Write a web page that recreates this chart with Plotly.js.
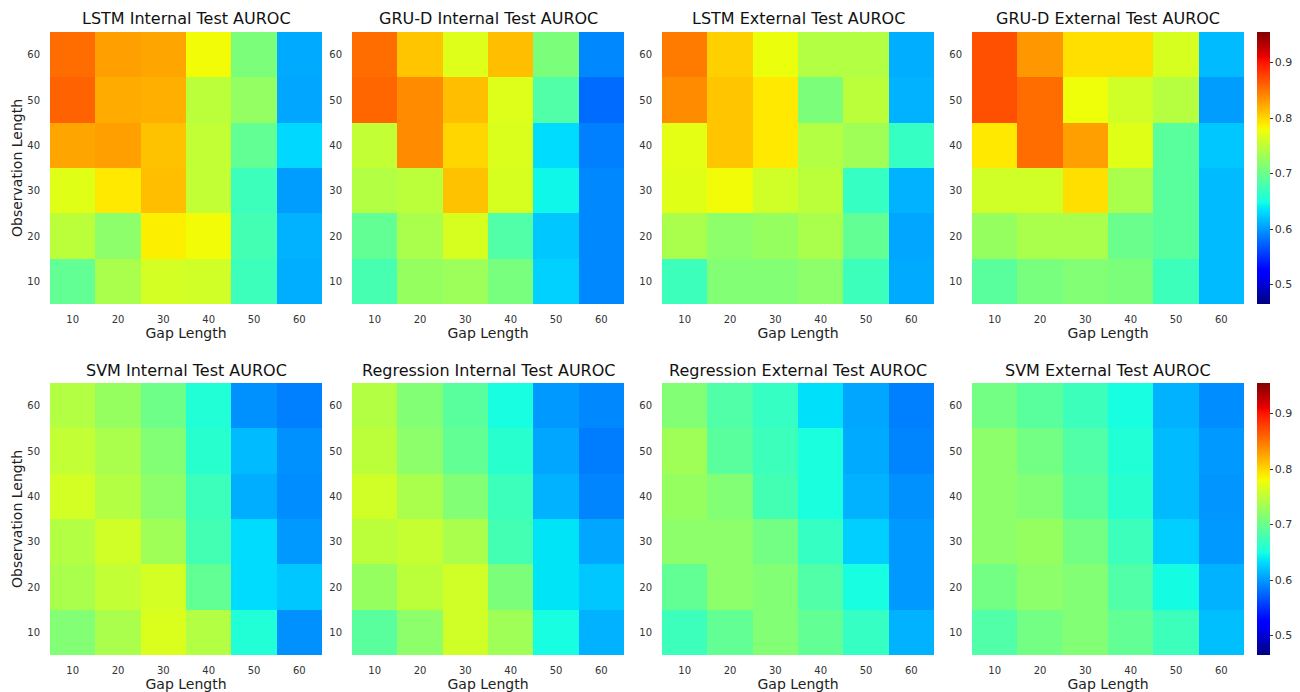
<!DOCTYPE html>
<html>
<head>
<meta charset="utf-8">
<script src="https://cdn.plot.ly/plotly-3.0.1.min.js"></script>
<style>html,body{margin:0;padding:0;background:#fff;}#chart{width:1300px;height:692px;}</style>
</head>
<body>
<div id="chart"></div>
<script>
// Axis categories
const gapLengths = [10, 20, 30, 40, 50, 60];
const obsLengths = [10, 20, 30, 40, 50, 60];
const colorbarTicks = [0.5, 0.6, 0.7, 0.8, 0.9];

// Panel titles
const titles = [
  "LSTM Internal Test AUROC", "GRU-D Internal Test AUROC", "LSTM External Test AUROC", "GRU-D External Test AUROC",
  "SVM Internal Test AUROC", "Regression Internal Test AUROC", "Regression External Test AUROC", "SVM External Test AUROC"
];

// AUROC values: rows = observation length 10..60 (bottom to top), cols = gap length 10..60
const lstmInternal = [
  [0.695, 0.738, 0.762, 0.760, 0.672, 0.610],
  [0.748, 0.720, 0.787, 0.780, 0.676, 0.612],
  [0.770, 0.790, 0.812, 0.752, 0.672, 0.602],
  [0.825, 0.828, 0.810, 0.752, 0.695, 0.630],
  [0.860, 0.822, 0.820, 0.748, 0.725, 0.606],
  [0.855, 0.828, 0.825, 0.780, 0.710, 0.608]
];
const grudInternal = [
  [0.678, 0.726, 0.730, 0.708, 0.627, 0.592],
  [0.695, 0.738, 0.764, 0.684, 0.622, 0.592],
  [0.743, 0.748, 0.810, 0.764, 0.645, 0.592],
  [0.752, 0.838, 0.800, 0.766, 0.632, 0.588],
  [0.858, 0.838, 0.812, 0.768, 0.684, 0.578],
  [0.855, 0.808, 0.768, 0.812, 0.710, 0.592]
];
const lstmExternal = [
  [0.672, 0.714, 0.714, 0.720, 0.672, 0.608],
  [0.738, 0.720, 0.726, 0.738, 0.695, 0.606],
  [0.770, 0.780, 0.760, 0.748, 0.668, 0.612],
  [0.772, 0.808, 0.790, 0.743, 0.732, 0.668],
  [0.838, 0.808, 0.790, 0.710, 0.748, 0.612],
  [0.847, 0.803, 0.776, 0.743, 0.743, 0.610]
];
const grudExternal = [
  [0.690, 0.708, 0.714, 0.710, 0.672, 0.616],
  [0.726, 0.738, 0.738, 0.700, 0.690, 0.616],
  [0.760, 0.760, 0.795, 0.738, 0.690, 0.616],
  [0.790, 0.855, 0.828, 0.770, 0.690, 0.622],
  [0.870, 0.855, 0.778, 0.760, 0.745, 0.602],
  [0.870, 0.832, 0.795, 0.795, 0.764, 0.616]
];
const svmInternal = [
  [0.714, 0.738, 0.766, 0.743, 0.656, 0.596],
  [0.738, 0.752, 0.762, 0.695, 0.632, 0.622],
  [0.743, 0.760, 0.732, 0.676, 0.632, 0.600],
  [0.762, 0.743, 0.720, 0.672, 0.610, 0.594],
  [0.752, 0.738, 0.714, 0.660, 0.616, 0.596],
  [0.743, 0.726, 0.702, 0.656, 0.596, 0.588]
];
const regInternal = [
  [0.690, 0.720, 0.760, 0.732, 0.650, 0.612],
  [0.726, 0.748, 0.760, 0.710, 0.636, 0.622],
  [0.748, 0.754, 0.738, 0.676, 0.636, 0.606],
  [0.760, 0.738, 0.714, 0.672, 0.612, 0.590],
  [0.748, 0.720, 0.695, 0.660, 0.606, 0.586],
  [0.743, 0.714, 0.690, 0.650, 0.600, 0.592]
];
const regExternal = [
  [0.672, 0.695, 0.714, 0.695, 0.668, 0.612],
  [0.695, 0.720, 0.714, 0.684, 0.650, 0.600],
  [0.720, 0.720, 0.705, 0.668, 0.626, 0.600],
  [0.726, 0.714, 0.676, 0.652, 0.612, 0.596],
  [0.732, 0.690, 0.672, 0.652, 0.608, 0.590],
  [0.714, 0.684, 0.668, 0.634, 0.606, 0.588]
];
const svmExternal = [
  [0.684, 0.705, 0.714, 0.695, 0.672, 0.618],
  [0.705, 0.720, 0.714, 0.684, 0.648, 0.612],
  [0.720, 0.726, 0.705, 0.672, 0.626, 0.600],
  [0.720, 0.714, 0.690, 0.660, 0.616, 0.598],
  [0.720, 0.705, 0.684, 0.656, 0.616, 0.600],
  [0.705, 0.690, 0.672, 0.650, 0.612, 0.594]
];

const panels = [lstmInternal, grudInternal, lstmExternal, grudExternal,
                svmInternal, regInternal, regExternal, svmExternal];

// matplotlib "jet" colormap as a Plotly colorscale
function jetColorscale() {
  const R = [[0,0],[0.35,0],[0.66,1],[0.89,1],[1,0.5]];
  const G = [[0,0],[0.125,0],[0.375,1],[0.64,1],[0.91,0],[1,0]];
  const B = [[0,0.5],[0.11,1],[0.34,1],[0.65,0],[1,0]];
  function f(seg, t) {
    for (let i = 0; i < seg.length - 1; i++) {
      if (t >= seg[i][0] && t <= seg[i+1][0]) {
        const a = seg[i], b = seg[i+1];
        return a[1] + (b[1]-a[1]) * (t - a[0]) / (b[0]-a[0]);
      }
    }
    return seg[seg.length-1][1];
  }
  const stops = [0,0.11,0.125,0.34,0.35,0.375,0.5,0.64,0.65,0.66,0.75,0.89,0.91,1];
  return stops.map(t => [t, `rgb(${Math.round(f(R,t)*255)},${Math.round(f(G,t)*255)},${Math.round(f(B,t)*255)})`]);
}
const jet = jetColorscale();

const W = 1300, H = 692;
const colLeft = [50, 352, 662, 972];
const plotSize = 272;
const rowTop = [32, 383];
const zmin = 0.465, zmax = 0.955;

const traces = [];
const layout = {
  width: W, height: H, autosize: false,
  margin: {l: 0, r: 0, t: 0, b: 0},
  paper_bgcolor: '#ffffff', plot_bgcolor: '#ffffff',
  font: {family: 'DejaVu Sans, sans-serif', color: '#333'},
  showlegend: false,
  annotations: []
};

panels.forEach((z, i) => {
  const r = Math.floor(i / 4), c = i % 4;
  const ax = i === 0 ? '' : String(i + 1);
  const x0 = colLeft[c] / W, x1 = (colLeft[c] + plotSize) / W;
  const yTop = rowTop[r], yBot = rowTop[r] + plotSize;
  const d0 = 1 - yBot / H, d1 = 1 - yTop / H;
  const showBar = (c === 3);
  traces.push({
    type: 'heatmap',
    x: gapLengths, y: obsLengths, z: z,
    xaxis: 'x' + ax, yaxis: 'y' + ax,
    colorscale: jet, zmin: zmin, zmax: zmax,
    showscale: showBar,
    colorbar: {
      x: 1257 / W, xanchor: 'left', xpad: 0, ypad: 0,
      y: (d0 + d1) / 2, yanchor: 'middle', len: plotSize / H, lenmode: 'fraction',
      thickness: 13, outlinewidth: 0,
      tickvals: colorbarTicks, ticktext: colorbarTicks.map(v => v.toFixed(1)),
      ticks: 'outside', ticklen: 3, tickcolor: '#333',
      tickfont: {size: 11, color: '#333'}
    },
    hovertemplate: 'Gap %{x}<br>Obs %{y}<br>AUROC %{z:.3f}<extra></extra>'
  });
  layout['xaxis' + ax] = {
    domain: [x0, x1], anchor: 'y' + ax,
    range: [5, 65], tickvals: gapLengths,
    showgrid: false, zeroline: false, showline: false,
    ticks: 'outside', ticklen: 6, tickcolor: 'rgba(0,0,0,0)',
    tickfont: {size: 10, color: '#333'},
    title: {text: 'Gap Length', font: {size: 14, color: '#222'}, standoff: 3},
    fixedrange: true
  };
  layout['yaxis' + ax] = {
    domain: [d0, d1], anchor: 'x' + ax,
    range: [5, 65], tickvals: obsLengths,
    showgrid: false, zeroline: false, showline: false,
    ticks: 'outside', ticklen: 7, tickcolor: 'rgba(0,0,0,0)',
    tickfont: {size: 10, color: '#333'},
    title: c === 0 ? {text: 'Observation Length', font: {size: 14, color: '#222'}, standoff: 1} : {text: ''},
    fixedrange: true
  };
  layout.annotations.push({
    text: titles[i], xref: 'paper', yref: 'paper',
    x: (x0 + x1) / 2, y: 1 - (yTop - 13) / H,
    xanchor: 'center', yanchor: 'middle', showarrow: false,
    font: {size: 16, color: '#111'}
  });
});

Plotly.newPlot('chart', traces, layout, {displayModeBar: false, staticPlot: true});
</script>
</body>
</html>
